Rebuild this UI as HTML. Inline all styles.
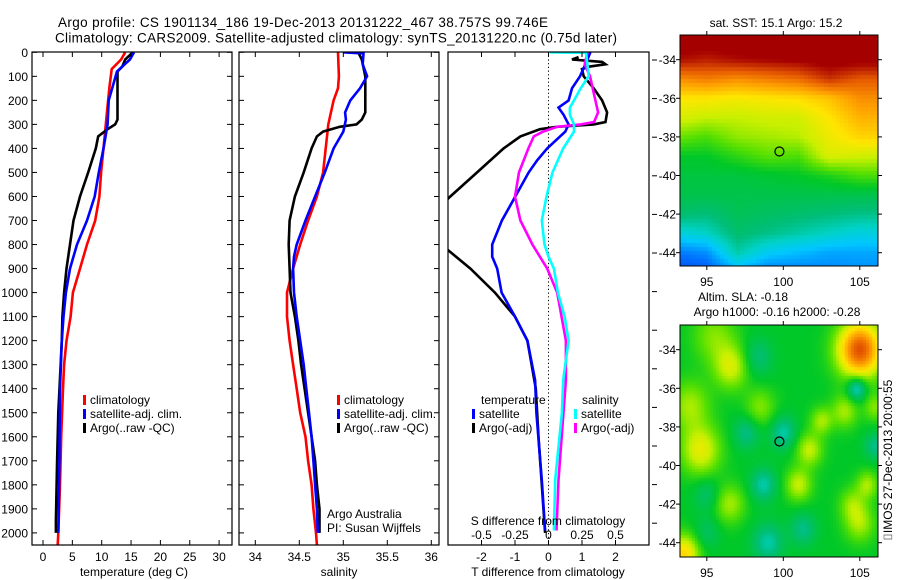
<!DOCTYPE html>
<html><head><meta charset="utf-8"><style>
html,body{margin:0;padding:0;background:#fff;width:900px;height:580px;overflow:hidden}
#wrap{position:relative;width:900px;height:580px}
svg{position:absolute;left:0;top:0}
canvas{position:absolute}
text{font-family:"Liberation Sans",sans-serif;font-size:12px;fill:#000}
</style></head><body>
<div id="wrap">
<canvas id="sst" width="198" height="231" style="left:680px;top:35px"></canvas>
<canvas id="sla" width="198" height="232" style="left:680px;top:325px"></canvas>
<svg id="fig" width="900" height="580" xmlns="http://www.w3.org/2000/svg">
<text x="58" y="27" style="font-size:13.5px" textLength="490">Argo profile: CS 1901134_186 19-Dec-2013 20131222_467 38.757S 99.746E</text>
<text x="55" y="42.5" style="font-size:13.5px" textLength="562">Climatology: CARS2009. Satellite-adjusted climatology: synTS_20131220.nc (0.75d later)</text>
</svg>
</div>
<script>
// ---- temperature panel data ----
const argoTDepth=[0,30,60,80,280,300,320,350,400,500,600,700,800,900,1000,1100,1200,1500,1700,1950,2000];
const argoT=[15.3,14,13.5,12.7,12.7,12.3,11,9.4,9.0,7.7,6.3,5.2,4.6,4.0,3.6,3.3,3.2,2.6,2.4,2.2,2.2];
const climTDepth=[0,30,70,150,300,400,500,600,700,800,900,1000,1100,1200,1300,1400,1600,1800,2000,2050];
const climT=[14,13.3,11.7,11.3,10.7,10.3,9.9,9.6,8.9,7.5,6.3,5.1,4.7,4.0,3.6,3.4,3.1,2.9,2.6,2.5];
const satTDepth=[0,30,80,200,300,400,500,600,700,800,900,1000,1100,1200,1400,1700,2000];
const satT=[15.5,14.8,12.6,11.2,11.0,10.3,9.5,8.8,7.5,5.8,4.6,3.9,3.5,3.2,2.9,2.8,2.6];
// ---- salinity panel data ----
const climSDepth=[0,100,150,200,300,400,500,600,700,800,900,1000,1100,1200,1300,1400,1500,1600,1700,1800,1900,2000,2050];
const climS=[34.94,34.95,34.94,34.89,34.83,34.80,34.77,34.70,34.60,34.51,34.43,34.36,34.36,34.39,34.43,34.47,34.51,34.57,34.60,34.64,34.66,34.69,34.70];
const argoSDepth=[0,30,100,250,280,300,310,330,350,400,500,600,700,800,900,1000,1100,1200,1300,1400,1500,1600,1700,1800,1900,2000];
const argoS=[35.17,35.21,35.25,35.25,35.21,35.15,34.96,34.77,34.70,34.64,34.55,34.45,34.39,34.38,34.39,34.40,34.45,34.49,34.52,34.56,34.60,34.64,34.68,34.70,34.73,34.73];
const satSDepth=[0,5,50,100,150,200,250,280,330,400,500,600,700,800,850,900,1000,1100,1200,1300,1400,1500,1600,1700,1800,1900,2000];
const satS=[35.0,35.23,35.22,35.27,35.19,35.08,35.02,35.03,35.0,34.89,34.79,34.68,34.57,34.47,34.44,34.43,34.44,34.47,34.51,34.55,34.58,34.61,34.64,34.66,34.68,34.70,34.71];
// ---- difference panel data ----
const argoDTDepth=[20,30,40,50,60,70,100,150,200,250,290,300,310,320,350,400,500,600,650,800,823,900,1000,1100,1200,1400,1600,1800,2000];
const argoDT=[0.9,0.7,1.6,1.7,1.2,1.0,1.05,1.35,1.6,1.75,1.7,1.35,0.26,-0.25,-0.84,-1.34,-2.13,-2.93,-3.3,-3.3,-3.0,-2.33,-1.6,-1.0,-0.63,-0.38,-0.3,-0.2,-0.1];
const satDTDepth=[0,50,100,150,200,230,260,300,330,400,450,500,600,700,800,850,900,1000,1100,1200,1364,1500,1780,1990];
const satDT=[1.25,1.1,0.94,0.7,0.6,0.3,0.45,0.6,0.5,-0.04,-0.34,-0.59,-0.99,-1.39,-1.68,-1.68,-1.53,-1.4,-1.0,-0.63,-0.4,-0.36,-0.2,-0.1];
const satDSDepth=[0,2,50,100,150,200,230,260,300,330,400,500,600,700,800,850,900,1000,1100,1200,1364,1500,1780,1990];
const satDS=[0.01,0.28,0.29,0.3,0.24,0.19,0.16,0.16,0.19,0.19,0.11,0.03,-0.015,-0.05,-0.03,0,0.04,0.07,0.12,0.15,0.11,0.1,0.05,0.04];
const argoDSDepth=[0,50,100,150,200,250,290,300,310,330,350,400,500,600,700,800,900,1000,1200,1364,1780,1990];
const argoDS=[0.29,0.27,0.31,0.33,0.35,0.37,0.34,0.24,0.065,-0.04,-0.11,-0.15,-0.22,-0.25,-0.21,-0.12,-0.01,0.065,0.13,0.13,0.075,0.06];
// ---- axis ticks ----
const depthTicks=[0,100,200,300,400,500,600,700,800,900,1000,1100,1200,1300,1400,1500,1600,1700,1800,1900,2000];
const tempTicks=[0,5,10,15,20,25,30];
const salTicks=[34,34.5,35,35.5,36];
const salTickLabels=['34','34.5','35','35.5','36'];
const dtTicks=[-2,-1,0,1,2];
const dsTicks=[-0.5,-0.25,0,0.25,0.5];
const dsTickLabels=['-0.5','-0.25','0','0.25','0.5'];
const lonTicks=[95,100,105];
const latTicks=[-34,-36,-38,-40,-42,-44];
const argoLon=99.746, argoLat=-38.757;

const NS='http://www.w3.org/2000/svg';
const svg=document.getElementById('fig');
function el(tag,attrs,parent){const e=document.createElementNS(NS,tag);for(const k in attrs)e.setAttribute(k,attrs[k]);(parent||svg).appendChild(e);return e;}
function txt(x,y,s,anchor,parent,size){const t=el('text',{x:x,y:y,'text-anchor':anchor||'start'},parent);if(size)t.style.fontSize=size+'px';t.textContent=s;return t;}

const yD=d=>52.3+d*0.2403;
const xT=t=>43+t*5.87;
const xS=s=>255.3+(s-34)*88;
const xDT=t=>548.5+t*33.5;
const xDS=s=>548.5+s*134;
const TOP=52,BOT=545;

function panel(id,x0,x1){
  const defs=el('defs',{});
  const cp=el('clipPath',{id:id},defs);
  el('rect',{x:x0,y:TOP,width:x1-x0,height:BOT-TOP},cp);
  const g=el('g',{'clip-path':'url(#'+id+')'});
  return g;
}
function line(g,depths,vals,xf,color,name){
  const pts=depths.map((d,i)=>xf(vals[i]).toFixed(1)+','+yD(d).toFixed(1)).join(' ');
  const p=el('polyline',{points:pts,fill:'none',stroke:color,'stroke-width':2.6,'stroke-linejoin':'miter'},g);
  
  
}
function frame(x0,x1,name){
  const r=el('rect',{x:x0,y:TOP,width:x1-x0,height:BOT-TOP,fill:'none',stroke:'#000','stroke-width':1.2});
  
  
}
function yticks(x0,x1){
  depthTicks.forEach(d=>{const y=yD(d);el('line',{x1:x0,y1:y,x2:x0+5,y2:y,stroke:'#000'});el('line',{x1:x1,y1:y,x2:x1-5,y2:y,stroke:'#000'});});
}
function xticks(vals,xf){
  vals.forEach(v=>{const x=xf(v);el('line',{x1:x,y1:TOP,x2:x,y2:TOP+5,stroke:'#000'});el('line',{x1:x,y1:BOT,x2:x,y2:BOT-5,stroke:'#000'});});
}
function legendEntry(x,y,color,label,name){
  const g=el('g',{});
  
  
  el('rect',{x:x,y:y-9,width:3,height:10,fill:color},g);
  txt(x+7,y,label,'start',g);
}

// Panel 1: temperature
const g1=panel('c1',32,232);
line(g1,climTDepth,climT,xT,'#ff0000','clim-temperature-line');
line(g1,argoTDepth,argoT,xT,'#000000','argo-temperature-line');
line(g1,satTDepth,satT,xT,'#0000ff','satellite-temperature-line');
frame(32,232,'temperature-panel-frame');
yticks(32,232);xticks(tempTicks,xT);
depthTicks.forEach(d=>{const t=txt(28,yD(d)+4.5,String(d),'end');});
tempTicks.forEach(v=>{const t=txt(xT(v),561,String(v),'middle');});
{const t=txt(134,576,'temperature (deg C)','middle');}
legendEntry(83,404,'#ff0000','climatology','legend-climatology');
legendEntry(83,418,'#0000ff','satellite-adj. clim.','legend-satellite-adj');
legendEntry(83,432,'#000000','Argo(..raw -QC)','legend-argo');

// Panel 2: salinity
const g2=panel('c2',239,439);
line(g2,climSDepth,climS,xS,'#ff0000','clim-salinity-line');
line(g2,argoSDepth,argoS,xS,'#000000','argo-salinity-line');
line(g2,satSDepth,satS,xS,'#0000ff','satellite-salinity-line');
frame(239,439,'salinity-panel-frame');
yticks(239,439);xticks(salTicks,xS);
salTicks.forEach((v,i)=>{const t=txt(xS(v),561,salTickLabels[i],'middle');});
{const t=txt(339,576,'salinity','middle');}
legendEntry(337,404,'#ff0000','climatology','legend-climatology-sal');
legendEntry(337,418,'#0000ff','satellite-adj. clim.','legend-satellite-adj-sal');
legendEntry(337,432,'#000000','Argo(..raw -QC)','legend-argo-sal');
{const t=txt(327,518,'Argo Australia');}
{const t=txt(327,532,'PI: Susan Wijffels');}

// Panel 3: differences
const g3=panel('c3',448,649);
el('line',{x1:xDT(0),y1:TOP,x2:xDT(0),y2:BOT,stroke:'#000','stroke-dasharray':'1.2,2.5','stroke-width':1},g3);
line(g3,argoDTDepth,argoDT,xDT,'#000000','argo-temperature-diff-line');
line(g3,satDTDepth,satDT,xDT,'#0000ff','satellite-temperature-diff-line');
line(g3,argoDSDepth,argoDS,xDS,'#ff00ff','argo-salinity-diff-line');
line(g3,satDSDepth,satDS,xDS,'#00ffff','satellite-salinity-diff-line');
frame(448,649,'difference-panel-frame');
xticks(dtTicks,xDT);
for(let y=60;y<546;y+=38.6){el('line',{x1:652,y1:y,x2:657,y2:y,stroke:'#000'});}
dtTicks.forEach(v=>{const t=txt(xDT(v),561,String(v),'middle');});
dsTicks.forEach((v,i)=>{const t=txt(xDS(v),539,dsTickLabels[i],'middle');});
{const t=txt(548,525,'S difference from climatology','middle');}
{const t=txt(548,576,'T difference from climatology','middle');}
{const t=txt(481,404,'temperature');}
legendEntry(472,418,'#0000ff','satellite','legend-temp-satellite');
legendEntry(472,432,'#000000','Argo(-adj)','legend-temp-argo');
{const t=txt(582,404,'salinity');}
legendEntry(574,418,'#00ffff','satellite','legend-sal-satellite');
legendEntry(574,432,'#ff00ff','Argo(-adj)','legend-sal-argo');

// ---- maps ----
const lonX=lon=>783.3+(lon-100)*15.3;
function mapAxes(top,latY,name){
  const r=el('rect',{x:680,y:top,width:198,height:top===35?231:232,fill:'none',stroke:'#000','stroke-width':1});
  
  
  const bottom=top+(top===35?231:232);
  lonTicks.forEach(l=>{const x=lonX(l);el('line',{x1:x,y1:top,x2:x,y2:top-4,stroke:'#000'});el('line',{x1:x,y1:bottom,x2:x,y2:bottom+4,stroke:'#000'});
    const t=txt(x,bottom+20,String(l),'middle');});
  latTicks.forEach(l=>{const y=latY(l);el('line',{x1:878,y1:y,x2:882,y2:y,stroke:'#000'});el('line',{x1:680,y1:y,x2:676,y2:y,stroke:'#000'});
    const t=txt(676,y+4.5,String(l),'end');});
  const c=el('circle',{cx:lonX(argoLon),cy:latY(argoLat),r:4.5,fill:'none',stroke:'#000','stroke-width':1.2});
  
  
}
const lat1=l=>59.7+(-34-l)*19.3;
const lat2=l=>349.7+(-34-l)*19.3;
mapAxes(35,lat1,'sst-map-frame');
mapAxes(325,lat2,'sla-map-frame');
{const t=txt(776,27,'sat. SST: 15.1  Argo: 15.2','middle');}
{const t=txt(743,301,'Altim. SLA: -0.18','middle');}
{const t=txt(777,316,'Argo h1000: -0.16 h2000: -0.28','middle');}
{const t=el('text',{x:0,y:0,transform:'translate(892,460) rotate(-90)','text-anchor':'middle'});t.textContent='\u2337IMOS 27-Dec-2013 20:00:55';}

// SST grid (lon nodes 93..107 step 2, lat nodes -33..-45 step 1), colormap index 0..1
const sstLon=[93,95,97,99,101,103,105,107];
const sstGrid=[
[.96,.96,.96,.96,.96,.96,.96,.96],
[.92,.90,.92,.93,.94,.96,.95,.95],
[.78,.80,.78,.80,.82,.88,.84,.84],
[.68,.68,.67,.68,.69,.72,.78,.78],
[.64,.62,.62,.63,.63,.68,.74,.74],
[.57,.55,.59,.60,.61,.66,.70,.70],
[.50,.50,.53,.56,.55,.64,.63,.62],
[.48,.48,.48,.49,.50,.52,.55,.55],
[.47,.47,.47,.47,.47,.47,.47,.47],
[.44,.43,.46,.45,.44,.43,.42,.42],
[.36,.38,.44,.42,.40,.38,.36,.36],
[.26,.28,.40,.34,.32,.30,.30,.30],
[.20,.22,.30,.26,.26,.27,.28,.28]];
// SLA blobs: [amplitude, lon, lat, sigma(deg)]
const slaBlobs=[[.08,95.5,-33.3,1],[-.07,98.3,-34.4,.7],[.13,96.6,-34.9,.8],[.1,93.9,-36.9,.9],[.08,98.5,-37,.7],
[-.08,97.6,-38.3,.6],[-.1,100,-38.3,.6],[.15,94.6,-39.2,.9],[.12,101.7,-39.2,.6],[.12,101,-41,.6],[-.1,98.7,-41,.6],
[-.06,95,-41.5,.6],[.1,96.5,-42,.7],[-.08,101.3,-43.3,.6],[-.1,99,-44,.7],[-.05,95,-43.5,.6],[.2,93.5,-44.6,.7],
[.35,105,-34,1.0],[-.15,104.8,-36,.45],[.1,104,-37.2,.6],[.08,106,-37,.5],[-.08,106,-39,.5],[.1,105,-43,.7],
[.08,104.5,-42,.6],[.1,102.5,-37.7,.5],[.1,105.5,-41,.5]];

const cmap=[[0.1,[0,0,170]],[0.25,[0,110,255]],[0.33,[0,200,255]],[0.38,[0,210,200]],[0.43,[0,190,120]],[0.5,[0,200,40]],
[0.56,[90,225,0]],[0.62,[200,240,0]],[0.68,[255,230,0]],[0.76,[255,160,0]],[0.84,[230,90,0]],[0.93,[165,0,0]]];
function col(v){
  if(v<=cmap[0][0])return cmap[0][1];
  for(let i=1;i<cmap.length;i++){if(v<=cmap[i][0]){const a=cmap[i-1],b=cmap[i],f=(v-a[0])/(b[0]-a[0]);return a[1].map((c,k)=>Math.round(c+(b[1][k]-c)*f));}}
  return cmap[cmap.length-1][1];
}
function sstVal(lon,lat){
  let fi=(lon-93)/2; fi=Math.max(0,Math.min(6.999,fi));
  let fj=(-33-lat); fj=Math.max(0,Math.min(11.999,fj));
  const i=Math.floor(fi),j=Math.floor(fj),u=fi-i,w=fj-j;
  const a=sstGrid[j][i],b=sstGrid[j][i+1],c=sstGrid[j+1][i],d=sstGrid[j+1][i+1];
  return a*(1-u)*(1-w)+b*u*(1-w)+c*(1-u)*w+d*u*w;
}
function slaVal(lon,lat){
  let v=0.5;
  slaBlobs.forEach(b=>{const dx=lon-b[1],dy=lat-b[2];v+=b[0]*Math.exp(-(dx*dx+dy*dy)/(2*b[3]*b[3]));});
  return v;
}
function drawMap(id,topPx,latFn,valFn,step){
  const cv=document.getElementById(id),ctx=cv.getContext('2d');
  for(let py=0;py<cv.height;py+=step){for(let px=0;px<cv.width;px+=step){
    const X=680+px+step/2,Y=topPx+py+step/2;
    const lon=100+(X-783.3)/15.3;
    const lat=latFn(Y);
    const c=col(valFn(lon,lat));
    ctx.fillStyle='rgb('+c[0]+','+c[1]+','+c[2]+')';
    ctx.fillRect(px,py,step,step);
  }}
}
drawMap('sst',35,Y=>-34-(Y-59.7)/19.3,sstVal,4);
drawMap('sla',325,Y=>-34-(Y-349.7)/19.3,slaVal,3);
</script>
</body></html>
